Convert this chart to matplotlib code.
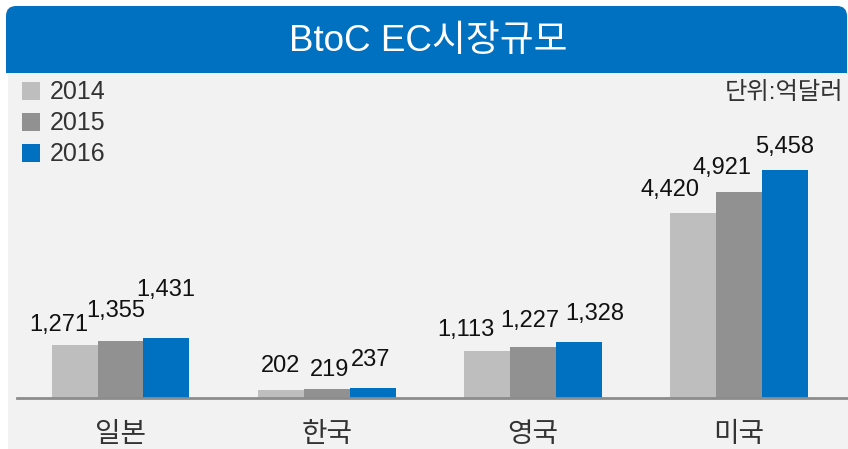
import matplotlib
matplotlib.use("Agg")
import matplotlib.pyplot as plt
from matplotlib.patches import Rectangle, FancyBboxPatch
import numpy as np

plt.rcParams['font.family'] = ['Liberation Sans', 'Noto Sans CJK KR', 'DejaVu Sans']

# ---- data ----
title = "BtoC EC시장규모"
unit_label = "단위:억달러"
categories = ['일본', '한국', '영국', '미국']
years = ['2014', '2015', '2016']
v2014 = [1271, 202, 1113, 4420]
v2015 = [1355, 219, 1227, 4921]
v2016 = [1431, 237, 1328, 5458]

# ---- style ----
colors = ['#BEBEBE', '#919191', '#0070C0']
nudges = [
    [(-16, 20), (0, 24), (-21, 21), (-23, 23)],
    [(-5, 30), (3, 19), (-3, 26), (-17, 24)],
    [(-1, 48), (-2, 28), (16, 28), (0, 23)],
]

W, H = 848, 449
fig = plt.figure(figsize=(W / 100, H / 100), dpi=100)
fig.patch.set_facecolor('white')

# background layer in pixel coordinates
bg = fig.add_axes([0, 0, 1, 1], zorder=-1)
bg.set_xlim(0, W)
bg.set_ylim(H, 0)
bg.axis('off')
bg.add_patch(Rectangle((8, 73), W - 8, H - 73 + 2, facecolor='#F2F2F2', edgecolor='none'))
bg.add_patch(FancyBboxPatch((6, 6), 841, 67, boxstyle="round,pad=0,rounding_size=10",
                            facecolor='#0070C0', edgecolor='none'))
bg.add_patch(Rectangle((6, 40), 841, 33, facecolor='#0070C0', edgecolor='none'))
bg.text(428, 42, title, color='white', fontsize=26.5, ha='center', va='center')
bg.text(843, 93, unit_label, color='#333333', fontsize=17.5, ha='right', va='center')

leg_y = [91, 122, 153]
for yr, c, ly in zip(years, colors, leg_y):
    bg.add_patch(Rectangle((22, ly - 9), 18, 18, facecolor=c, edgecolor='none'))
    bg.text(50, ly + 1, yr, color='#333333', fontsize=18, ha='left', va='center')

# main chart
ax = fig.add_axes([17 / W, (H - 398) / H, 830 / W, (398 - 75) / H])
ax.patch.set_alpha(0)
x = np.arange(len(categories))
bw = 0.223
series = [v2014, v2015, v2016]
for i, (vals, c) in enumerate(zip(series, colors)):
    xs = x + (i - 1) * bw
    ax.bar(xs, vals, width=bw, color=c, edgecolor='none', zorder=2)
    for xi, v, (dx, dy) in zip(xs, vals, nudges[i]):
        ax.annotate(f"{v:,}", xy=(xi, v), xytext=(dx, dy), textcoords='offset pixels',
                    ha='center', va='center', fontsize=17, color='#111111')

ax.set_xlim(-0.502, 3.524)
ax.set_ylim(0, 323 / 0.0418)
for s in ['top', 'right', 'left']:
    ax.spines[s].set_visible(False)
ax.spines['bottom'].set_color('#8C8C8C')
ax.spines['bottom'].set_linewidth(2)
ax.set_yticks([])
ax.set_xticks(x)
ax.set_xticklabels(categories, fontsize=20, color='#333333', fontweight='medium')
ax.tick_params(axis='x', length=0, pad=17)

fig.savefig('out.png', dpi=100)
